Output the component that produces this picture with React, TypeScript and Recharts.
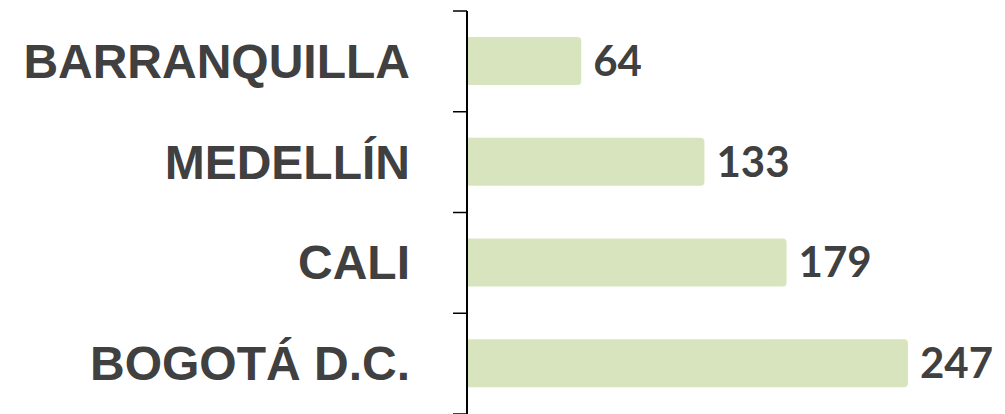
import React from 'react';
import { BarChart, Bar, XAxis, YAxis, LabelList } from 'recharts';

const cities = ['BARRANQUILLA', 'MEDELLÍN', 'CALI', 'BOGOTÁ D.C.'];
const counts = [64, 133, 179, 247];
const valueDomain = [0, 298];

const data = cities.map((city, i) => ({ city, count: counts[i] }));

const CHART_W = 1005;
const CHART_H = 414;
const MARGIN = { top: 11, right: 6, bottom: 0, left: 0 };
const LABEL_GAP = 57;
const TICK_LEN = 14;
const BAND = (CHART_H - MARGIN.top - MARGIN.bottom) / cities.length;

const CityTick = (props: any) => {
  const { x, y, payload, index } = props;
  const axisX = x + LABEL_GAP;
  const top = y - BAND / 2;
  const bottom = y + BAND / 2;
  return (
    <g>
      <line x1={axisX - TICK_LEN} x2={axisX} y1={top} y2={top} stroke="#000" strokeWidth={1.5} />
      {index === cities.length - 1 && (
        <line x1={axisX - TICK_LEN} x2={axisX} y1={bottom} y2={bottom} stroke="#000" strokeWidth={1.5} />
      )}
      <text
        x={x}
        y={y}
        textAnchor="end"
        dominantBaseline="central"
        fontFamily="'Liberation Sans', Arial, sans-serif"
        fontWeight="bold"
        fontSize={48}
        fill="#404040"
      >
        {payload.value}
      </text>
    </g>
  );
};

export default function App() {
  return (
    <div style={{ position: 'absolute', left: 0, top: 0 }}>
      <BarChart width={CHART_W} height={CHART_H} data={data} layout="vertical" margin={MARGIN}>
        <XAxis type="number" domain={valueDomain} allowDataOverflow hide />
        <Bar
          dataKey="count"
          fill="#D7E4BD"
          barSize={48}
          radius={[0, 4, 4, 0]}
          isAnimationActive={false}
        >
          <LabelList
            dataKey="count"
            position="right"
            offset={12}
            fontFamily="Lato, 'Open Sans', sans-serif"
            fontWeight="bold"
            fontSize={42}
            fill="#404040"
          />
        </Bar>
        <YAxis
          type="category"
          dataKey="city"
          width={467}
          axisLine={{ stroke: '#000', strokeWidth: 2 }}
          tickLine={false}
          tickSize={0}
          tickMargin={LABEL_GAP}
          tick={<CityTick />}
        />
      </BarChart>
    </div>
  );
}
